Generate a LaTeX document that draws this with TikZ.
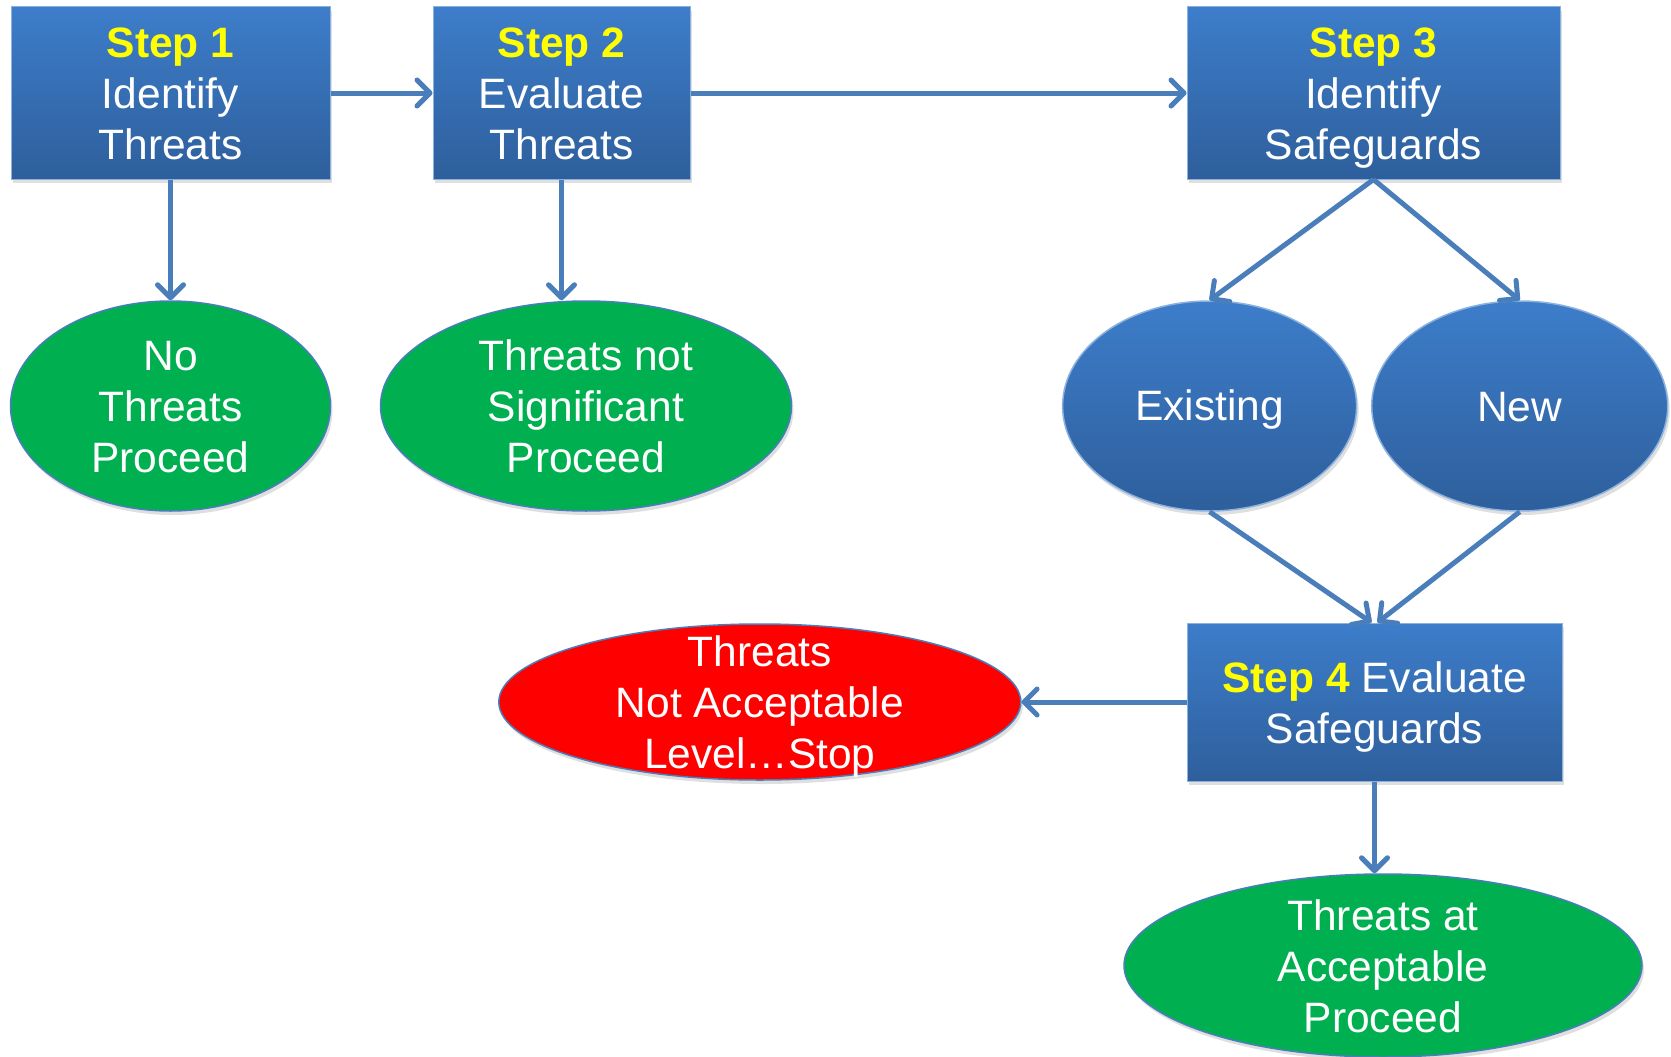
\documentclass[tikz,border=0pt]{standalone}
\usepackage{fontspec}
\setmainfont{Liberation Sans}
\usetikzlibrary{arrows.meta,shapes.geometric,shadows}
\definecolor{boxtop}{HTML}{3D7DCA}
\definecolor{boxbot}{HTML}{2E5F9C}
\definecolor{lineblue}{HTML}{4A7EBB}
\definecolor{okgreen}{HTML}{00B050}
\definecolor{stepyel}{HTML}{FFFF00}
\begin{document}
\begin{tikzpicture}[x=1pt,y=-1pt,
  every node/.style={font=\fontsize{42.5}{51}\selectfont, text=white, align=center},
  stepbox/.style={rectangle, top color=boxtop, bottom color=boxbot, draw=boxtop!60!white, line width=1pt, inner sep=0pt,
    drop shadow={opacity=0.25, shadow xshift=2pt, shadow yshift=-4pt}},
  oval/.style={ellipse, inner sep=0pt, draw=lineblue, line width=1.5pt,
    drop shadow={opacity=0.25, shadow xshift=2pt, shadow yshift=-4pt}},
  blueoval/.style={oval, top color=boxtop, bottom color=boxbot, draw=boxtop!60!white},
  conn/.style={draw=lineblue, line width=5pt, -{Straight Barb[round,length=13pt,width=26pt]}}
]
\useasboundingbox (0,0) rectangle (1671,1057);

% step boxes
\node[stepbox, minimum width=319pt, minimum height=172pt] (s1) at (170.5,93) {};
\node[yshift=-1pt] (s1t) at (s1) {\textcolor{stepyel}{\bfseries Step 1}\\Identify\\Threats};
\node[stepbox, minimum width=257pt, minimum height=172pt] (s2) at (561.5,93) {};
\node[yshift=-1pt] (s2t) at (s2) {\textcolor{stepyel}{\bfseries Step 2}\\Evaluate\\Threats};
\node[stepbox, minimum width=373pt, minimum height=172pt] (s3) at (1373.5,93) {};
\node[yshift=-5pt] (s3t) at (s3) {\textcolor{stepyel}{\bfseries Step 3}\\Identify\\Safeguards};
\node[stepbox, minimum width=375pt, minimum height=158pt] (s4) at (1374.5,702) {};
\node[yshift=-5pt] (s4t) at (s4) {\textcolor{stepyel}{\bfseries Step 4} Evaluate\\Safeguards};

% ellipses
\node[oval, fill=okgreen, minimum width=320pt, minimum height=210pt] (nt) at (170.5,406) {};
\node[yshift=-1.5pt] (ntt) at (nt) {No\\Threats\\Proceed};
\node[oval, fill=okgreen, minimum width=411pt, minimum height=210pt] (tns) at (586,406) {};
\node (tnst) at (tns) {Threats not\\Significant\\Proceed};
\node[blueoval, minimum width=294pt, minimum height=210pt] (ex) at (1209.6,406) {};
\node[yshift=-4pt] (ext) at (ex) {Existing};
\node[blueoval, minimum width=296pt, minimum height=210pt] (nw) at (1519.7,406) {};
\node[yshift=-1pt] (nwt) at (nw) {New};
\node[oval, fill=red, minimum width=522pt, minimum height=156pt] (red) at (759.8,702) {};
\node[yshift=-5pt] (redt) at (red) {Threats\\Not Acceptable\\Level…Stop};
\node[oval, fill=okgreen, minimum width=518pt, minimum height=183pt] (ag) at (1383,965.5) {};
\node[yshift=-1pt] (agt) at (ag) {Threats at\\Acceptable\\Proceed};

% connectors
\draw[conn] (s1) -- (s2);
\draw[conn] (s2) -- (s3);
\draw[conn] (s1.south) -- (s1.south |- nt.north);
\draw[conn] (s2.south) -- (s2.south |- tns.north);
\draw[conn] (s3.south) -- (ex.north);
\draw[conn] (s3.south) -- (nw.north);
\draw[conn] (ex.south) -- ([xshift=-3pt]s4.north);
\draw[conn] (nw.south) -- ([xshift=3pt]s4.north);
\draw[conn] (s4.west) -- (red.east);
\draw[conn] (s4.south) -- (s4.south |- ag.north);
\end{tikzpicture}
\end{document}
